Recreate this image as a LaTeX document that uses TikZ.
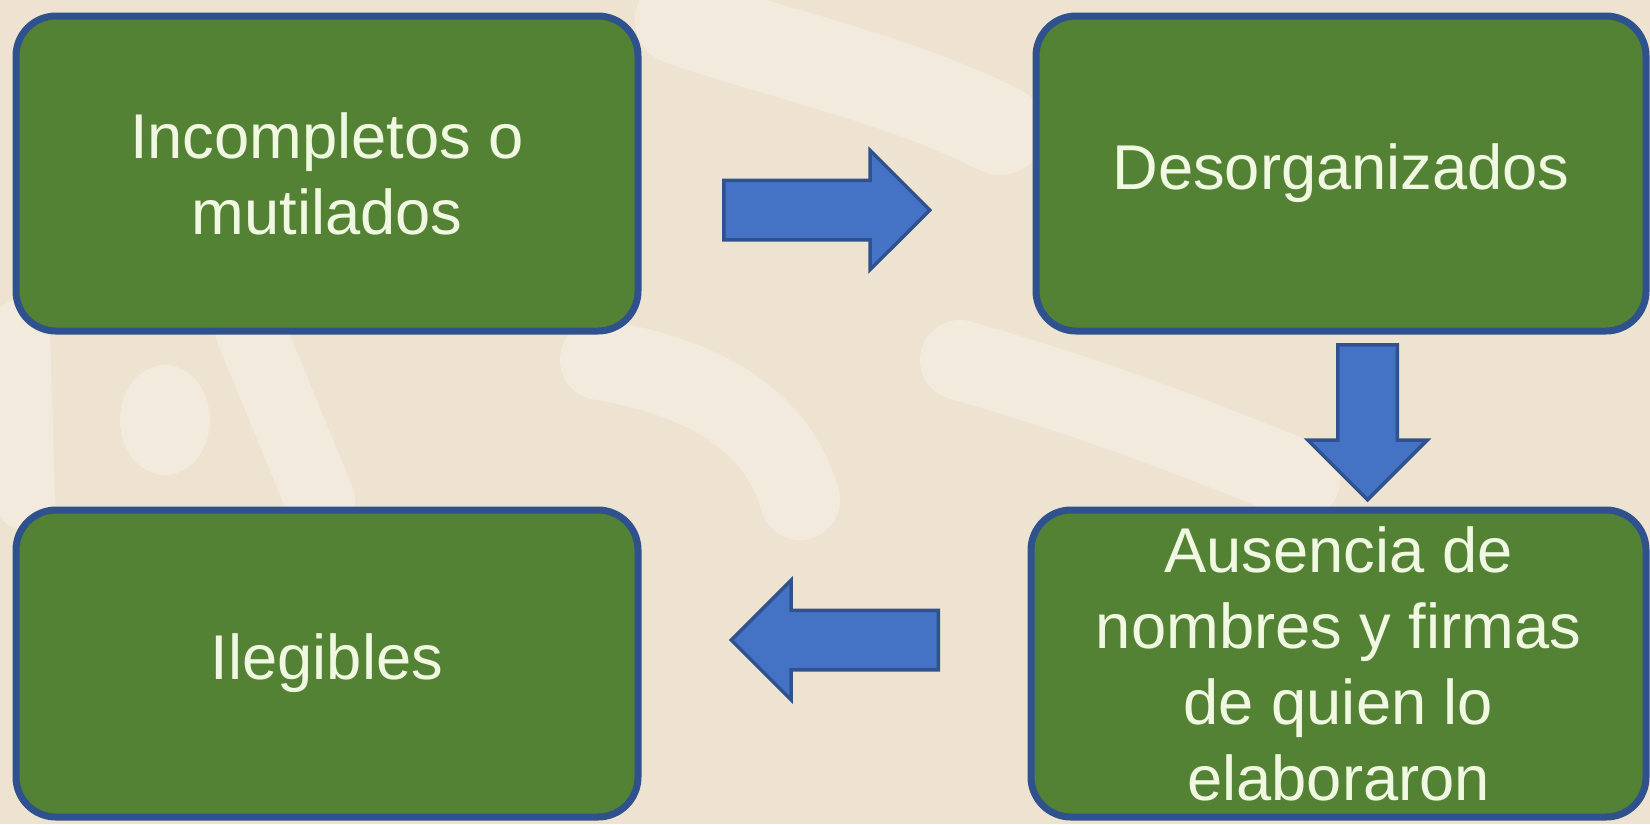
\documentclass[tikz,border=0pt]{standalone}
\usepackage{fontspec}
\setmainfont{Liberation Sans}
\usetikzlibrary{shapes.arrows}

\definecolor{boxgreen}{HTML}{548235}
\definecolor{boxblue}{HTML}{2F528F}
\definecolor{arrowblue}{HTML}{4472C4}
\definecolor{textcream}{HTML}{F1F8E2}
\definecolor{bgbeige}{HTML}{EEE3D0}
\definecolor{bglight}{HTML}{F6F1E8}

\begin{document}
\begin{tikzpicture}[x=0.1mm, y=-0.1mm,
	box/.style={shape=rectangle, rounded corners=4mm, draw=boxblue, line width=0.7mm, fill=boxgreen, text=textcream, align=center, font=\fontsize{18}{21.6}\selectfont},
	blockarrow/.style={shape=single arrow, anchor=tail, draw=boxblue, line width=0.35mm, fill=arrowblue, inner sep=2.8mm, single arrow head extend=3mm, minimum width=11.6mm}]
	
	% background
	\fill[bgbeige] (0,0) rectangle (1650,824);
	\useasboundingbox (0,0) rectangle (1650,824);
	\begin{scope}[bglight, line cap=round, opacity=0.55]
		\fill (165,420) ellipse (45 and 55);
		\draw[line width=7mm] (250,330) -- (320,500);
		\draw[line width=9mm] (680,20) .. controls (800,60) and (900,80) .. (1000,130);
		\draw[line width=8mm] (600,360) .. controls (720,380) and (780,430) .. (800,500);
		\draw[line width=8mm] (960,360) .. controls (1100,400) and (1200,440) .. (1300,480);
		\draw[line width=6mm] (20,330) -- (25,500);
	\end{scope}
	
	\node[box, minimum width=62.2mm, minimum height=31.5mm] (inc) at (327, 173.5) {Incompletos o\\mutilados};
	\node[box, minimum width=61mm, minimum height=31.5mm] (des) at (1341, 173.5) {Desorganizados};
	\node[box, minimum width=61.5mm, minimum height=30.7mm] (aus) at (1338.5, 663.5) {Ausencia de\\nombres y firmas\\de quien lo\\elaboraron};
	\node[box, minimum width=62.2mm, minimum height=30.7mm] (ile) at (327, 663.5) {Ilegibles};
	
	\node[blockarrow, minimum height=20.6mm] (incdes) at (722, 210) {};
	\node[blockarrow, minimum height=15.5mm, shape border rotate=270] (desaus) at (1367.5, 343) {};
	\node[blockarrow, minimum height=20.7mm, shape border rotate=180] (ausile) at (940, 640) {};
	
\end{tikzpicture}
\end{document}
